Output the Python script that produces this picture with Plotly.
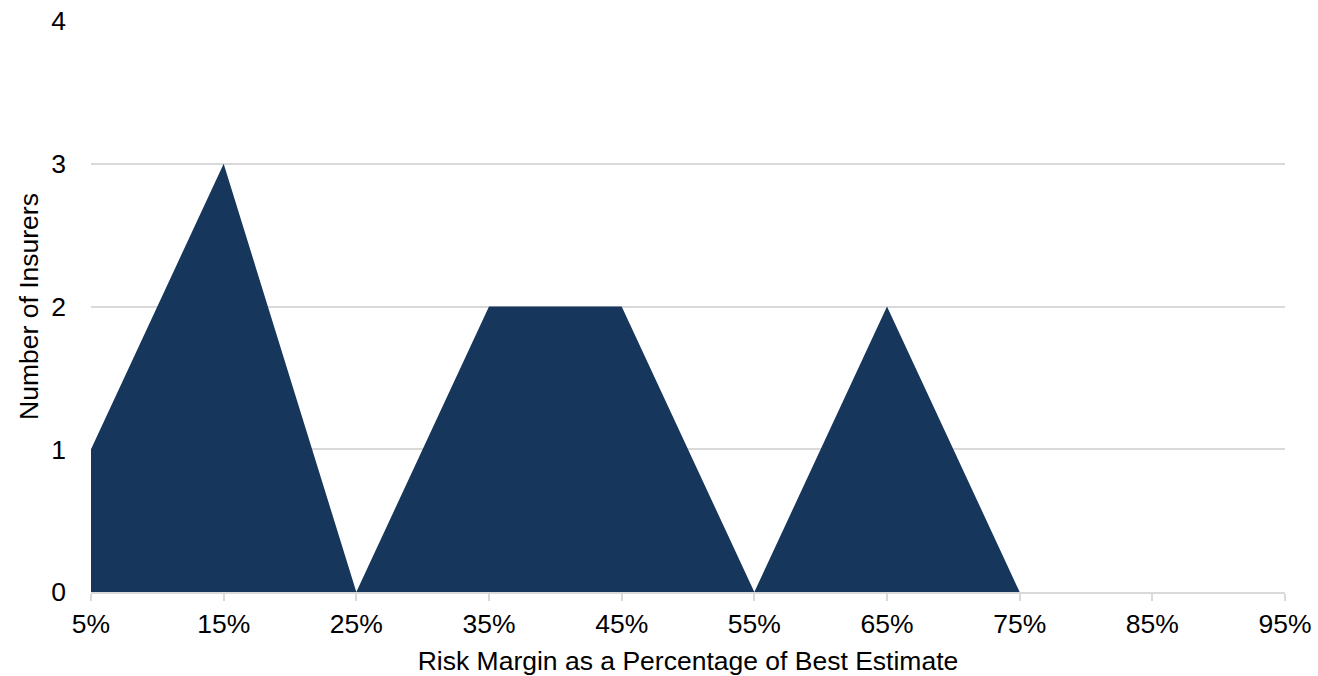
import plotly.graph_objects as go

# Distribution of risk margins across insurers
categories = ["5%", "15%", "25%", "35%", "45%", "55%", "65%", "75%", "85%", "95%"]
insurers = [1, 3, 0, 2, 2, 0, 2, 0, 0, 0]
y_ticks = [0, 1, 2, 3, 4]

fig = go.Figure()
fig.add_trace(go.Scatter(
    x=list(range(len(categories))),
    y=insurers,
    mode="lines",
    fill="tozeroy",
    fillcolor="#17365B",
    line=dict(color="#17365B", width=0),
    hoverinfo="skip",
    showlegend=False,
))

font_family = "Liberation Sans, Arial, sans-serif"
text_font = dict(family=font_family, size=26.5, color="#000000")
fig.update_layout(
    width=1318,
    height=676,
    margin=dict(l=91, r=33, t=21, b=84, autoexpand=False),
    plot_bgcolor="white",
    paper_bgcolor="white",
    font=text_font,
    xaxis=dict(
        range=[0, len(categories) - 1],
        tickmode="array",
        tickvals=list(range(len(categories))),
        ticktext=categories,
        tickfont=text_font,
        automargin=False,
        showgrid=False,
        showline=True,
        linecolor="#D9D9D9",
        linewidth=2,
        ticks="outside",
        ticklen=7,
        tickwidth=2,
        tickcolor="#D9D9D9",
        zeroline=False,
        title=dict(text="Risk Margin as a Percentage of Best Estimate",
                   font=text_font, standoff=14),
    ),
    yaxis=dict(
        range=[0, 4],
        tickmode="array",
        tickvals=y_ticks,
        tickfont=text_font,
        automargin=False,
        showgrid=True,
        gridcolor="#D9D9D9",
        gridwidth=2,
        zeroline=False,
        showline=False,
        ticks="",
        ticklabelstandoff=24,
        title=dict(text="Number of Insurers", font=text_font, standoff=4),
    ),
)

fig.write_html("out.html")
